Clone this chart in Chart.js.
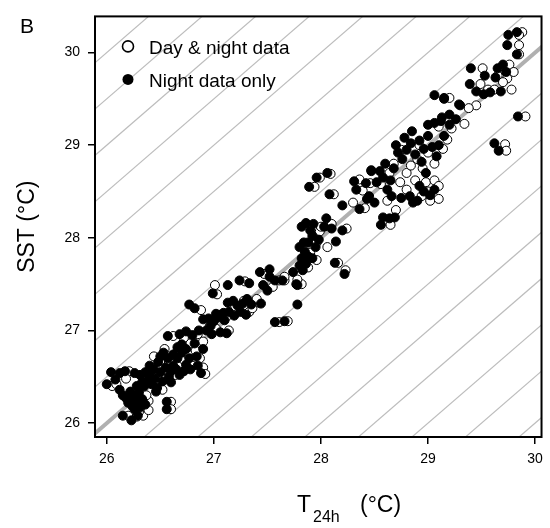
<!DOCTYPE html>
<html>
<head>
<meta charset="utf-8">
<script src="https://cdn.jsdelivr.net/npm/chart.js@4.4.1/dist/chart.umd.min.js"></script>
<style>
  html, body { margin: 0; padding: 0; background: #fff; }
  #wrap { width: 550px; height: 528px; position: relative; }
</style>
</head>
<body>
<div id="wrap"><canvas id="chart" width="550" height="528"></canvas></div>
<script>
// tick values on both axes
const xTicks = [26, 27, 28, 29, 30];
const yTicks = [26, 27, 28, 29, 30];
const xRange = [25.89, 30.06];
const yRange = [25.85, 30.39];

// 1:1 line and the parallel guides (offsets in °C)
const guideOffsets = [-4.5, -4, -3.5, -3, -2.5, -2, -1.5, -1, -0.5, 0.5, 1, 1.5, 2, 2.5, 3, 3.5, 4, 4.5];

const seriesLabels = ['Day & night data', 'Night data only'];

// [T24h, SST], night data only (filled)
const nightData = [
  [26.00, 26.42], [26.04, 26.55], [26.08, 26.47], [26.12, 26.54], [26.17, 26.56], [26.26, 26.54],
  [26.31, 26.52], [26.12, 26.36], [26.15, 26.30], [26.18, 26.27], [26.22, 26.34], [26.25, 26.29],
  [26.20, 26.22], [26.24, 26.18], [26.28, 26.24], [26.15, 26.08], [26.23, 26.03], [26.29, 26.08],
  [26.26, 26.15], [26.31, 26.17], [26.33, 26.26], [26.36, 26.20], [26.30, 26.33], [26.35, 26.40],
  [26.38, 26.46], [26.40, 26.52], [26.42, 26.42], [26.45, 26.48], [26.47, 26.38], [26.50, 26.55],
  [26.52, 26.45], [26.55, 26.60], [26.58, 26.50], [26.60, 26.56], [26.62, 26.62], [26.65, 26.58],
  [26.68, 26.52], [26.72, 26.56], [26.74, 26.63], [26.78, 26.58], [26.44, 26.58], [26.48, 26.66],
  [26.50, 26.72], [26.53, 26.76], [26.57, 26.70], [26.62, 26.74], [26.66, 26.70], [26.70, 26.76],
  [26.56, 26.23], [26.56, 26.15], [26.36, 26.55], [26.40, 26.62], [26.46, 26.34], [26.66, 26.82],
  [26.70, 26.85], [26.74, 26.80], [26.82, 26.86], [26.84, 26.72], [26.85, 26.62], [26.88, 26.54],
  [26.57, 26.94], [26.68, 26.96], [26.74, 26.99], [26.80, 26.95], [26.86, 27.00], [26.90, 26.80],
  [26.33, 26.44], [26.28, 26.40], [26.60, 26.44], [26.77, 26.70],
  [26.77, 27.28], [26.82, 27.24], [26.99, 27.40], [27.13, 27.49], [27.24, 27.54], [27.33, 27.51],
  [27.43, 27.63], [27.52, 27.66], [27.52, 27.58], [27.57, 27.54], [27.46, 27.49], [27.50, 27.43],
  [27.13, 27.30], [27.18, 27.32], [27.22, 27.27], [27.27, 27.29], [27.31, 27.34], [27.35, 27.28],
  [27.44, 27.29], [27.02, 27.18], [27.09, 27.19], [27.14, 27.20], [27.19, 27.16], [27.25, 27.20],
  [27.30, 27.17], [26.90, 27.12], [26.95, 27.13], [27.00, 27.10], [27.04, 27.14], [27.10, 27.11],
  [26.93, 27.00], [26.98, 26.96], [27.06, 26.98], [27.12, 26.97], [26.97, 27.05], [27.57, 27.09],
  [27.66, 27.10], [27.74, 27.63], [27.77, 27.50], [27.78, 27.28], [27.80, 27.90], [27.82, 27.78],
  [27.80, 27.70], [27.85, 27.85], [27.86, 27.72], [27.64, 27.54], [27.83, 27.65], [27.78, 27.49],
  [27.84, 27.95], [27.88, 27.80],
  [27.89, 28.55], [27.96, 28.65], [28.06, 28.70], [28.08, 28.47], [27.92, 28.02], [27.95, 27.90],
  [27.98, 27.98], [27.90, 28.08], [27.82, 28.12], [27.86, 28.16], [27.93, 28.15], [28.03, 28.12],
  [28.10, 28.10], [28.05, 28.21], [28.14, 27.96], [28.13, 27.73], [28.22, 27.61], [28.20, 28.35],
  [28.31, 28.61], [28.33, 28.52], [28.42, 28.59], [28.36, 28.31], [28.47, 28.72], [28.43, 28.42],
  [28.20, 28.08], [27.92, 27.78], [27.88, 27.95],
  [28.52, 28.60], [28.55, 28.72], [28.58, 28.65], [28.60, 28.80], [28.62, 28.52], [28.66, 28.45],
  [28.58, 28.22], [28.64, 28.21], [28.69, 28.22], [28.56, 28.14], [28.47, 28.73], [28.45, 28.45],
  [28.50, 28.38], [28.75, 28.43], [28.83, 28.45], [28.86, 28.38], [28.72, 28.92], [28.76, 28.85],
  [28.80, 28.95], [28.84, 29.02], [28.88, 28.90], [28.92, 29.05], [28.78, 29.08], [28.70, 29.00],
  [28.96, 28.96], [29.00, 29.10], [29.04, 28.98], [28.94, 28.82], [29.08, 28.88], [28.98, 28.70],
  [28.92, 28.56], [28.96, 28.50], [29.02, 28.46], [28.90, 28.40], [29.06, 28.52], [28.85, 29.15],
  [29.00, 29.22], [29.06, 29.24], [29.12, 29.26], [29.20, 29.22], [29.15, 29.10], [29.10, 29.00],
  [28.65, 28.62], [28.68, 28.75], [29.15, 29.50], [29.26, 29.28], [29.29, 29.44], [29.06, 29.54],
  [29.15, 29.51], [29.30, 29.43],
  [29.40, 29.83], [29.39, 29.66], [29.45, 29.58], [29.52, 29.55], [29.58, 29.57], [29.63, 29.73],
  [29.65, 29.83], [29.70, 29.87], [29.73, 29.79], [29.53, 29.75], [29.75, 30.19], [29.83, 30.22],
  [29.74, 30.08], [29.83, 29.98], [29.62, 29.02], [29.66, 28.94], [29.84, 29.31], [29.68, 29.58],
  [29.20, 29.33], [29.13, 29.30]
];

// [T24h, SST], day & night data (open)
const dayNightData = [
  [26.05, 26.40], [26.09, 26.42], [26.21, 26.56], [26.20, 26.08], [26.28, 26.07], [26.34, 26.08],
  [26.39, 26.14], [26.39, 26.24], [26.37, 26.30], [26.30, 26.12], [26.24, 26.30], [26.42, 26.50],
  [26.47, 26.42], [26.52, 26.36], [26.55, 26.48], [26.60, 26.23], [26.60, 26.15], [26.62, 26.94],
  [26.64, 26.52], [26.68, 26.62], [26.72, 26.68], [26.76, 26.74], [26.80, 26.62], [26.83, 26.78],
  [26.87, 26.70], [26.90, 26.60], [26.92, 26.53], [26.78, 26.86], [26.54, 26.80], [26.58, 26.66],
  [26.48, 26.60], [26.34, 26.48], [26.72, 26.92], [26.85, 26.96], [26.66, 26.78], [26.90, 26.88],
  [26.18, 26.48], [26.44, 26.72],
  [26.88, 27.22], [27.01, 27.49], [27.03, 27.39], [27.29, 27.53], [27.47, 27.61], [27.61, 27.54],
  [27.66, 27.54], [27.55, 27.47], [27.42, 27.30], [27.40, 27.34], [27.33, 27.20], [27.36, 27.24],
  [27.06, 27.17], [27.12, 27.15], [26.96, 27.04], [27.02, 27.02], [27.14, 27.00], [27.61, 27.09],
  [27.69, 27.10], [27.20, 27.26], [27.28, 27.32], [27.82, 27.50], [27.78, 27.55], [27.88, 27.68],
  [27.90, 27.84], [27.96, 27.76], [27.66, 27.58],
  [27.94, 28.55], [27.99, 28.65], [28.09, 28.69], [28.12, 28.47], [28.36, 28.63], [28.46, 28.59],
  [28.39, 28.51], [28.41, 28.32], [27.99, 28.07], [28.10, 28.15], [28.24, 28.10], [27.96, 27.95],
  [28.16, 27.73], [28.23, 27.65], [28.00, 28.12], [28.06, 27.90], [28.30, 28.38],
  [28.56, 28.58], [28.64, 28.70], [28.62, 28.40], [28.65, 28.14], [28.70, 28.30], [28.74, 28.60],
  [28.80, 28.70], [28.84, 28.78], [28.90, 28.85], [28.95, 28.75], [28.98, 28.60], [29.02, 28.40],
  [29.06, 28.62], [29.10, 28.56], [29.10, 28.42], [28.94, 28.45], [28.80, 28.52], [28.92, 29.00],
  [29.00, 28.92], [29.06, 28.80], [29.14, 28.96], [29.18, 29.06], [29.00, 28.50], [28.88, 28.62],
  [28.75, 28.95], [28.68, 28.80], [29.22, 29.18], [29.34, 29.23], [29.10, 29.20], [29.20, 29.51],
  [29.45, 29.43], [29.38, 29.40],
  [29.51, 29.83], [29.49, 29.66], [29.56, 29.60], [29.62, 29.60], [29.76, 29.87], [29.80, 29.79],
  [29.65, 29.75], [29.74, 29.72], [29.78, 29.60], [29.88, 30.22], [29.85, 30.19], [29.85, 30.08],
  [29.85, 29.98], [29.72, 29.01], [29.73, 28.94], [29.91, 29.31], [29.70, 29.68]
];

const FONT = "'Liberation Sans', Arial, sans-serif";
const toPoints = arr => arr.map(p => ({ x: p[0], y: p[1] }));

const guideSets = guideOffsets.map(c => ({
  data: [{ x: 25, y: 25 + c }, { x: 31, y: 31 + c }],
  showLine: true,
  borderColor: '#bdbdbd',
  borderWidth: 1.2,
  pointRadius: 0,
  order: 4
}));

const decorPlugin = {
  id: 'decor',
  afterDraw(chart) {
    const ctx = chart.ctx;
    const a = chart.chartArea;
    ctx.save();
    // frame
    ctx.strokeStyle = '#000';
    ctx.lineWidth = 2;
    ctx.strokeRect(a.left, a.top, a.right - a.left, a.bottom - a.top);

    // legend inside the plot
    ctx.font = '19px ' + FONT;
    ctx.textBaseline = 'alphabetic';
    ctx.fillStyle = '#000';
    const rows = [
      { label: seriesLabels[0], filled: false, cy: a.top + 30 },
      { label: seriesLabels[1], filled: true, cy: a.top + 63 }
    ];
    rows.forEach(r => {
      ctx.beginPath();
      ctx.arc(a.left + 33, r.cy, 5.5, 0, Math.PI * 2);
      if (r.filled) {
        ctx.fillStyle = '#000';
        ctx.fill();
      } else {
        ctx.fillStyle = '#fff';
        ctx.fill();
        ctx.lineWidth = 1.6;
        ctx.strokeStyle = '#000';
        ctx.stroke();
      }
      ctx.fillStyle = '#000';
      ctx.fillText(r.label, a.left + 54, r.cy + 8);
    });

    // panel letter
    ctx.font = '21px ' + FONT;
    ctx.fillText('B', 20, 33);

    // x axis title with subscript
    ctx.font = '23px ' + FONT;
    ctx.fillText('T', 297, 512);
    ctx.font = '16px ' + FONT;
    ctx.fillText('24h', 313, 522);
    ctx.font = '23px ' + FONT;
    ctx.fillText('(\u00B0C)', 360, 512);
    ctx.restore();
  }
};

new Chart(document.getElementById('chart'), {
  type: 'scatter',
  data: {
    datasets: [
      {
        label: seriesLabels[1],
        data: toPoints(nightData),
        backgroundColor: '#000',
        borderColor: '#000',
        borderWidth: 1,
        pointRadius: 4.5,
        order: 0
      },
      {
        label: seriesLabels[0],
        data: toPoints(dayNightData),
        backgroundColor: '#fff',
        borderColor: '#000',
        borderWidth: 1,
        pointRadius: 4.5,
        order: 1
      },
      {
        data: [{ x: 25, y: 25 }, { x: 31, y: 31 }],
        showLine: true,
        borderColor: '#b0b0b0',
        borderWidth: 4,
        pointRadius: 0,
        order: 2
      },
      ...guideSets
    ]
  },
  options: {
    responsive: false,
    animation: false,
    events: [],
    layout: { padding: { left: 0, right: 8, top: 6, bottom: 0 } },
    plugins: {
      legend: { display: false },
      tooltip: { enabled: false }
    },
    scales: {
      x: {
        type: 'linear',
        min: xRange[0],
        max: xRange[1],
        afterBuildTicks: s => { s.ticks = xTicks.map(v => ({ value: v })); },
        afterFit: s => { s.height = 91; },
        border: { display: false },
        grid: { drawOnChartArea: false, drawTicks: true, tickLength: 7, color: '#000', lineWidth: 1.5 },
        ticks: { color: '#000', padding: 7, font: { family: FONT, size: 14 } }
      },
      y: {
        type: 'linear',
        min: yRange[0],
        max: yRange[1],
        afterBuildTicks: s => { s.ticks = yTicks.map(v => ({ value: v })); },
        afterFit: s => { s.width = 95; },
        border: { display: false },
        grid: { drawOnChartArea: false, drawTicks: true, tickLength: 7, color: '#000', lineWidth: 1.5 },
        ticks: { color: '#000', padding: 8, font: { family: FONT, size: 14 } },
        title: {
          display: true,
          text: 'SST (\u00B0C)',
          color: '#000',
          font: { family: FONT, size: 23 },
          padding: { top: 14, bottom: 0 }
        }
      }
    }
  },
  plugins: [decorPlugin]
});
</script>
</body>
</html>
